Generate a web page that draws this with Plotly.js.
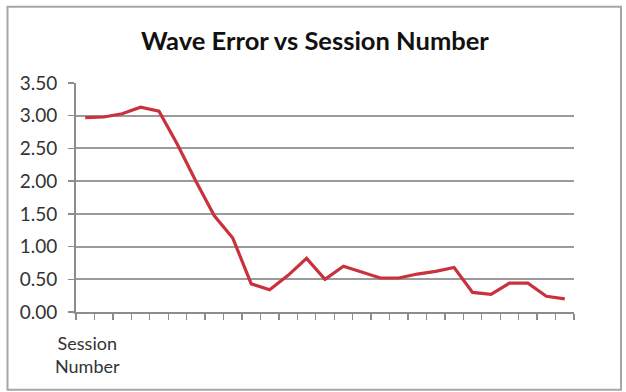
<!DOCTYPE html>
<html>
<head>
<meta charset="utf-8">
<script src="https://cdn.plot.ly/plotly-3.0.1.min.js"></script>
<style>html,body{margin:0;padding:0;background:#fff;}#chart{width:626px;height:392px;}</style>
</head>
<body>
<div id="chart"></div>
<script>
const sessions = ["1","2","3","4","5","6","7","8","9","10","11","12","13","14","15","16","17","18","19","20","21","22","23","24","25","26","27"];
const waveError = [2.97,2.98,3.03,3.13,3.07,2.56,2.00,1.47,1.13,0.43,0.34,0.56,0.82,0.50,0.70,0.61,0.52,0.52,0.58,0.62,0.68,0.30,0.27,0.44,0.44,0.24,0.20];
const yTicks = [0,0.5,1,1.5,2,2.5,3,3.5];
const yTickText = ["0.00","0.50","1.00","1.50","2.00","2.50","3.00","3.50"];

const trace = {
  x: sessions, y: waveError, type: "scatter", mode: "lines",
  line: {color: "#c9323d", width: 3.2}, hoverinfo: "none"
};
const W = 626, H = 392, L = 76, R = 52, T = 83, B = 79.5;
const pw = W - L - R, ph = H - T - B;
const px = v => (v - L) / pw, py = v => (H - B - v) / ph;

const layout = {
  width: W, height: H,
  margin: {l: L, r: R, t: T, b: B},
  paper_bgcolor: "#fff", plot_bgcolor: "#fff",
  font: {family: "Lato, 'Open Sans', sans-serif", color: "#333", size: 18},
  showlegend: false,
  title: {text: "<b>Wave Error vs Session Number</b>", font: {size: 25.5, color: "#111"}, x: 0.503, xanchor: "center", y: 1 - 41/392, yanchor: "middle"},
  xaxis: {type: "category", range: [-0.5, 26.5], tickson: "boundaries", ticks: "outside", ticklen: 6, tickwidth: 1.3, tickcolor: "#8c8c8c",
    showticklabels: false, showgrid: false, showline: true, linecolor: "#8c8c8c", linewidth: 2, zeroline: false, fixedrange: true},
  yaxis: {range: [0, 3.5], tickvals: yTicks, ticktext: yTickText, ticks: "outside", ticklen: 6, tickwidth: 1.3, tickcolor: "#8c8c8c",
    showgrid: true, gridcolor: "#9a9a9a", gridwidth: 2, showline: true, linecolor: "#8c8c8c", linewidth: 2, zeroline: false,
    ticklabelstandoff: 7, tickfont: {size: 19, color: "#333"}, fixedrange: true},
  annotations: [{text: "Session<br>Number", xref: "paper", yref: "paper", x: px(87), y: py(355), xanchor: "center", yanchor: "middle", showarrow: false, font: {size: 18, color: "#333"}}],
  shapes: [{type: "rect", xref: "paper", yref: "paper", x0: px(7.5), x1: px(621), y0: py(390.5), y1: py(6.5), line: {color: "#a6a6a6", width: 2}, fillcolor: "rgba(0,0,0,0)", layer: "below"}]
};
Plotly.newPlot("chart", [trace], layout, {staticPlot: true, displayModeBar: false});
</script>
</body>
</html>
